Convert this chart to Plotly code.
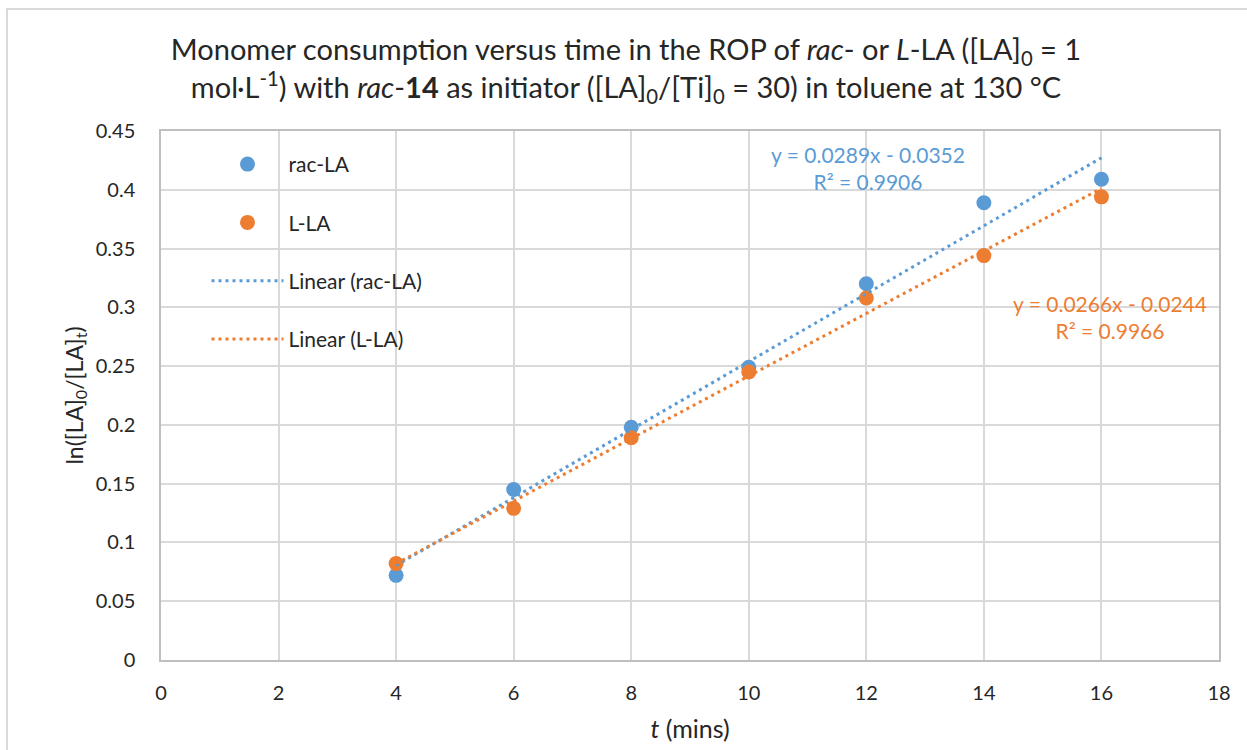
import plotly.graph_objects as go
import numpy as np

t_min = [4, 6, 8, 10, 12, 14, 16]
rac_la = [0.072, 0.145, 0.198, 0.249, 0.320, 0.389, 0.409]
l_la = [0.082, 0.129, 0.189, 0.245, 0.308, 0.344, 0.394]

# trendline coefficients as displayed on the chart (slope, intercept)
rac_fit = [0.0289, -0.0352]
l_fit = [0.0266, -0.0244]
rac_r2 = 0.9906
l_r2 = 0.9966

x_ticks = [0, 2, 4, 6, 8, 10, 12, 14, 16, 18]
y_ticks = [0, 0.05, 0.1, 0.15, 0.2, 0.25, 0.3, 0.35, 0.4, 0.45]
y_tick_text = ["0", "0.05", "0.1", "0.15", "0.2", "0.25", "0.3", "0.35", "0.4", "0.45"]

BLUE = "#5B9BD5"
ORANGE = "#ED7D31"
FONT = "Lato"
TXT = "#262626"

trend_x = np.array([t_min[0], t_min[-1]], dtype=float)
rac_trend = rac_fit[0] * trend_x + rac_fit[1]
l_trend = l_fit[0] * trend_x + l_fit[1]

fig = go.Figure()
fig.add_trace(go.Scatter(x=t_min, y=rac_la, mode="markers", name="rac-LA",
                         marker=dict(color=BLUE, size=15), legendgroup="a"))
fig.add_trace(go.Scatter(x=t_min, y=l_la, mode="markers", name="L-LA",
                         marker=dict(color=ORANGE, size=15), legendgroup="b"))
fig.add_trace(go.Scatter(x=trend_x, y=rac_trend, mode="lines", name="Linear (rac-LA)",
                         line=dict(color=BLUE, width=3, dash="3px,4px"), legendgroup="c"))
fig.add_trace(go.Scatter(x=trend_x, y=l_trend, mode="lines", name="Linear (L-LA)",
                         line=dict(color=ORANGE, width=3, dash="3px,4px"), legendgroup="d"))

fig.add_annotation(x=12.03, y=0.4185, xref="x", yref="y", showarrow=False,
                   text=f"y = {rac_fit[0]:.4f}x - {abs(rac_fit[1]):.4f}<br>R² = {rac_r2:.4f}",
                   font=dict(family=FONT, size=21, color=BLUE), align="center")
fig.add_annotation(x=16.14, y=0.2915, xref="x", yref="y", showarrow=False,
                   text=f"y = {l_fit[0]:.4f}x - {abs(l_fit[1]):.4f}<br>R² = {l_r2:.4f}",
                   font=dict(family=FONT, size=21, color=ORANGE), align="center")

fig.add_shape(type="rect", xref="paper", yref="paper",
              x0=-0.1456, x1=1.05, y0=-0.3, y1=1.2306,
              line=dict(color="#d9d9d9", width=2), fillcolor="rgba(0,0,0,0)", layer="below")

fig.update_layout(
    width=1247, height=750,
    margin=dict(l=161, r=28, t=131, b=90),
    paper_bgcolor="white", plot_bgcolor="white",
    font=dict(family=FONT, size=20, color=TXT),
    title=dict(
        text="Monomer consumption versus time in the ROP of <i>rac</i>- or <i>L</i>-LA ([LA]<sub>0</sub> = 1<br>"
             "mol·L<sup>-1</sup>) with <i>rac</i>-<b>14</b> as initiator ([LA]<sub>0</sub>/[Ti]<sub>0</sub> = 30) in toluene at 130 °C",
        x=0.502, xanchor="center", xref="container", y=0.92, yanchor="middle",
        font=dict(family=FONT, size=29, color=TXT)),
    showlegend=True,
    legend=dict(x=0.043, y=0.9755, xanchor="left", yanchor="top",
                bgcolor="rgba(255,255,255,0)", font=dict(family=FONT, size=21, color=TXT),
                tracegroupgap=28, traceorder="grouped", itemwidth=72),
    xaxis=dict(range=[0, 18], tickvals=x_ticks, ticktext=[str(v) for v in x_ticks],
               showgrid=True, gridcolor="#d9d9d9", gridwidth=2, zeroline=False,
               showline=True, linecolor="#bfbfbf", linewidth=1.5, mirror=True,
               ticks="", ticklabelstandoff=14,
               title=dict(text="<i>t</i> (mins)", font=dict(family=FONT, size=25, color=TXT), standoff=18),
               tickfont=dict(family=FONT, size=20, color=TXT)),
    yaxis=dict(range=[0, 0.45], tickvals=y_ticks, ticktext=y_tick_text,
               showgrid=True, gridcolor="#d9d9d9", gridwidth=2, zeroline=False,
               showline=True, linecolor="#bfbfbf", linewidth=1.5, mirror=True,
               ticks="", ticklabelstandoff=20,
               title=dict(text="ln([LA]<sub>0</sub>/[LA]<sub>t</sub>)", font=dict(family=FONT, size=23, color=TXT), standoff=6),
               tickfont=dict(family=FONT, size=20, color=TXT)),
)

fig.write_html("out.html")
